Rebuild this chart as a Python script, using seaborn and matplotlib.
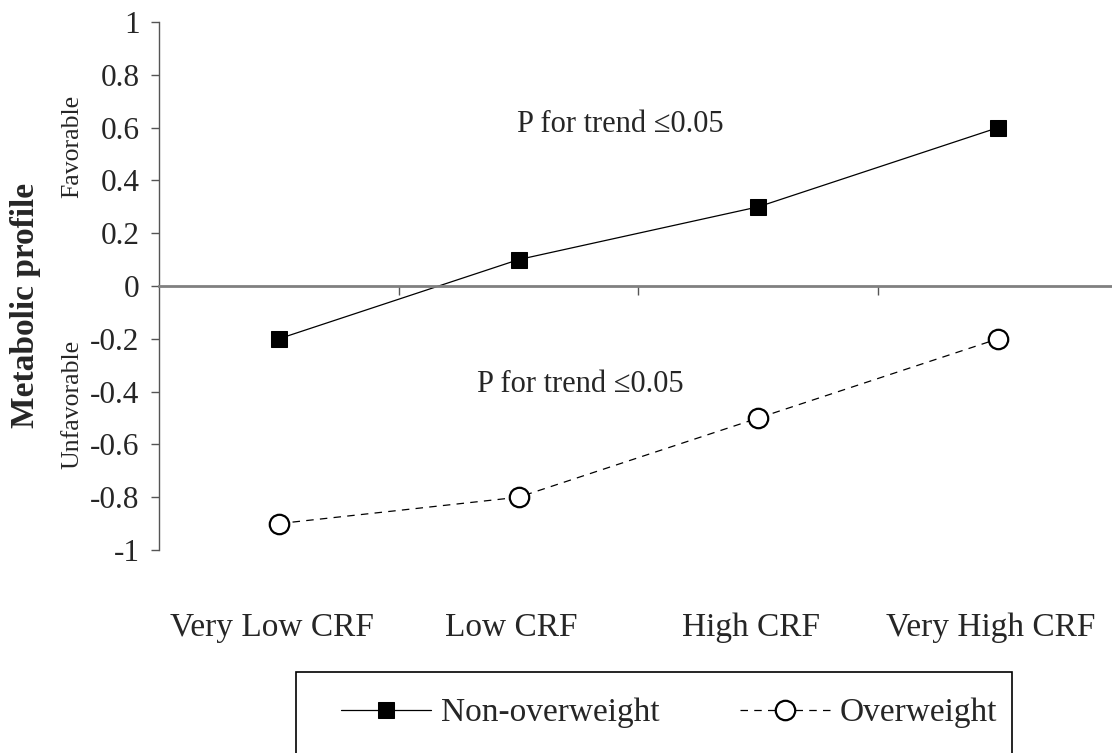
import matplotlib
matplotlib.use("Agg")
import matplotlib.pyplot as plt
from matplotlib.patches import Rectangle
import seaborn as sns
import numpy as np

# Cardiorespiratory fitness groups and metabolic profile scores
categories = ["Very Low CRF", "Low CRF", "High CRF", "Very High CRF"]
non_overweight = [-0.2, 0.1, 0.3, 0.6]
overweight = [-0.9, -0.8, -0.5, -0.2]
y_ticks = [-1, -0.8, -0.6, -0.4, -0.2, 0, 0.2, 0.4, 0.6, 0.8, 1]
y_tick_labels = ["-1", "-0.8", "-0.6", "-0.4", "-0.2", "0", "0.2", "0.4", "0.6", "0.8", "1"]
trend_note = "P for trend \u22640.05"

sns.set_theme(style="white")
plt.rcParams["font.family"] = ["Liberation Serif", "DejaVu Serif"]
plt.rcParams["mathtext.fontset"] = "stix"

W, H = 1112, 753
fig = plt.figure(figsize=(W / 100, H / 100), dpi=100)
ax = fig.add_axes([159 / W, 1 - 550 / H, (W - 159) / W, 528 / H])

pos = np.arange(len(categories))

sns.lineplot(x=pos, y=non_overweight, ax=ax, color="black", lw=0.9,
             marker="s", markersize=12, markerfacecolor="black",
             markeredgecolor="black", label="Non-overweight")
sns.lineplot(x=pos, y=overweight, ax=ax, color="black", lw=0.9,
             marker="o", markersize=14, markerfacecolor="white",
             markeredgecolor="black", markeredgewidth=1.6,
             label="Overweight")
ax.lines[1].set_dashes((6, 5))

ax.set_xlim(-0.5, 3.475)
ax.set_ylim(-1, 1)

# Axis styling: left spine plus a zero line carrying the group boundaries
for side in ("top", "right"):
    ax.spines[side].set_visible(False)
ax.spines["left"].set_color("#555555")
ax.spines["left"].set_linewidth(1.0)
ax.spines["bottom"].set_position(("data", 0))
ax.spines["bottom"].set_color("#808080")
ax.spines["bottom"].set_linewidth(2.0)

ax.set_yticks(y_ticks, labels=y_tick_labels)
ax.set_xticks(pos[:-1] + 0.5, labels=[""] * (len(pos) - 1))
ax.tick_params(axis="y", direction="out", length=6, width=1, color="#555555",
               labelsize=22.5, pad=8, left=True)
ax.tick_params(axis="x", direction="out", length=6.5, width=1, color="#555555",
               bottom=True)
ax.set_xlabel("")
ax.set_ylabel("")
ax.grid(False)

# Category names under the plotting area
xt = ax.get_xaxis_transform()
for i, name in enumerate(categories):
    ax.text(pos[i] - 0.03, -0.148, name, transform=xt, ha="center",
            va="center", fontsize=24, clip_on=False)

# Trend annotations
ax.text(1.425, 0.61, trend_note, ha="center", va="center", fontsize=22)
ax.text(1.258, -0.375, trend_note, ha="center", va="center", fontsize=22)

# Axis titles
fig.text(26 / W, 1 - 305 / H, "Metabolic profile", rotation=90, ha="center",
         va="center", fontsize=24, fontweight="bold")
fig.text(72 / W, 1 - 146 / H, "Favorable", rotation=90, ha="center",
         va="center", fontsize=18.5)
fig.text(72 / W, 1 - 404 / H, "Unfavorable", rotation=90, ha="center",
         va="center", fontsize=18.5)

# Legend inside an open-bottomed box
handles, labels = ax.get_legend_handles_labels()
ax.legend_.remove() if ax.legend_ else None
fig.legend(handles, labels, loc="center left",
           bbox_to_anchor=(341 / W, 1 - 713 / H), ncol=2, frameon=False,
           fontsize=24, handlelength=2.7, handletextpad=0.3,
           columnspacing=2.4, borderpad=0, borderaxespad=0)
fig.patches.append(Rectangle((296 / W, 1 - 765 / H), (1012 - 296) / W,
                             (765 - 672) / H, transform=fig.transFigure,
                             fill=False, edgecolor="black", lw=1.2))

fig.savefig("out.png", dpi=100)
